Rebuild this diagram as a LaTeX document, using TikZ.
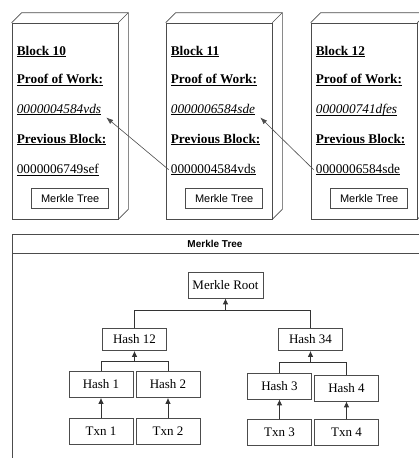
\documentclass[tikz,border=0pt]{standalone}
\usepackage{fontspec}
\setmainfont{Liberation Serif}
\setsansfont{Liberation Sans}
\usetikzlibrary{positioning,arrows.meta,calc}

\newcommand{\ulbl}[1]{\underline{\raisebox{0pt}[\height][0pt]{#1}}}

\begin{document}
\begin{tikzpicture}[
  x=1pt, y=-1pt,
  >=Latex,
  face/.style={draw=black!70, line width=0.7pt},
  blockface/.style={face, minimum width=106pt, minimum height=196pt, inner sep=0pt},
  ttl/.style={anchor=west, inner sep=2pt, font=\fontsize{13.3}{16}\selectfont\bfseries},
  hashval/.style={anchor=west, inner sep=2pt, font=\fontsize{13.3}{16}\selectfont\itshape},
  prevval/.style={anchor=west, inner sep=2pt, font=\fontsize{13.3}{16}\selectfont},
  mbox/.style={face, minimum width=77pt, minimum height=20pt, inner sep=0pt, font=\sffamily\fontsize{11}{13}\selectfont},
  tnode/.style={face, minimum width=64pt, minimum height=26pt, inner sep=0pt, font=\fontsize{13}{15}\selectfont},
  link/.style={draw=black!70, line width=0.6pt, -{Latex[length=7pt,width=5pt]}},
  bar/.style={draw=black!80, line width=0.8pt},
  up/.style={bar, -{Latex[length=6pt,width=5.5pt]}}
]
\useasboundingbox (0,0) rectangle (419,458);
\clip (0,0) rectangle (419,458);

% ------------------------------------------------------------
% Blocks of the chain
% ------------------------------------------------------------
\node[blockface] (blk10) at (65,121) {};
\node[blockface] (blk11) at (219,121) {};
\node[blockface] (blk12) at (364,121) {};

% depth of each block
\draw[face] (blk10.north west) -- ++(10,-10) -| ($(blk10.south east)+(10,-10)$) -- (blk10.south east);
\draw[face] (blk10.north east) -- ++(10,-10);
\draw[face] (blk11.north west) -- ++(10,-10) -| ($(blk11.south east)+(10,-10)$) -- (blk11.south east);
\draw[face] (blk11.north east) -- ++(10,-10);
\draw[face] (blk12.north west) -- ++(10,-10) -| ($(blk12.south east)+(10,-10)$) -- (blk12.south east);
\draw[face] (blk12.north east) -- ++(10,-10);

% Block 10
\node[ttl] (ttl10) at ($(blk10.north west)+(3,29)$) {\ulbl{Block 10}};
\node[ttl, below=28pt of ttl10.west, anchor=west] (powl10) {\ulbl{Proof of Work:}};
\node[hashval, below=30pt of powl10.west, anchor=west] (pow10) {\ulbl{0000004584vds}};
\node[ttl, below=30pt of pow10.west, anchor=west] (prevl10) {\ulbl{Previous Block:}};
\node[prevval, below=30pt of prevl10.west, anchor=west] (prev10) {\ulbl{0000006749sef}};
\node[mbox] (mt10) at ($(blk10.south west)+(58.5,-21)$) {Merkle Tree};

% Block 11
\node[ttl] (ttl11) at ($(blk11.north west)+(3,29)$) {\ulbl{Block 11}};
\node[ttl, below=28pt of ttl11.west, anchor=west] (powl11) {\ulbl{Proof of Work:}};
\node[hashval, below=30pt of powl11.west, anchor=west] (pow11) {\ulbl{0000006584sde}};
\node[ttl, below=30pt of pow11.west, anchor=west] (prevl11) {\ulbl{Previous Block:}};
\node[prevval, below=30pt of prevl11.west, anchor=west] (prev11) {\ulbl{0000004584vds}};
\node[mbox] (mt11) at ($(blk11.south west)+(58.5,-21)$) {Merkle Tree};

% Block 12
\node[ttl] (ttl12) at ($(blk12.north west)+(3,29)$) {\ulbl{Block 12}};
\node[ttl, below=28pt of ttl12.west, anchor=west] (powl12) {\ulbl{Proof of Work:}};
\node[hashval, below=30pt of powl12.west, anchor=west] (pow12) {\ulbl{000000741dfes}};
\node[ttl, below=30pt of pow12.west, anchor=west] (prevl12) {\ulbl{Previous Block:}};
\node[prevval, below=30pt of prevl12.west, anchor=west] (prev12) {\ulbl{0000006584sde}};
\node[mbox] (mt12) at ($(blk12.south west)+(58.5,-21)$) {Merkle Tree};

% previous block points back to proof of work
\draw[link] (prev11.west) -- ($(pow10.south east)+(3,0)$);
\draw[link] (prev12.west) -- ($(pow11.south east)+(3,0)$);

% ------------------------------------------------------------
% Merkle tree panel
% ------------------------------------------------------------
\node[face, anchor=north west, minimum width=430pt, minimum height=240pt, inner sep=0pt] (panel) at (12,234) {};
\node[font=\sffamily\bfseries\fontsize{10}{12}\selectfont] (hdr) at (215,244) {Merkle Tree};
\draw[face] ($(panel.north west)+(0,19)$) -- ($(panel.north east)+(0,19)$);

\node[tnode, minimum width=75pt] (root) at (225.5,285) {Merkle Root};
\node[tnode, minimum height=22pt] (h12) at (134.5,339.5) {Hash 12};
\node[tnode, minimum height=22pt] (h34) at (310.5,339.5) {Hash 34};
\node[tnode] (h1) at (101,384.5) {Hash 1};
\node[tnode] (h2) at (168,384.5) {Hash 2};
\node[tnode] (h3) at (279.5,386) {Hash 3};
\node[tnode] (h4) at (346.5,388) {Hash 4};
\node[tnode, below=20pt of h1] (t1) {Txn 1};
\node[tnode, below=20pt of h2] (t2) {Txn 2};
\node[tnode, below=20pt of h3] (t3) {Txn 3};
\node[tnode, below=18pt of h4] (t4) {Txn 4};

% joins
\coordinate (jroot) at ($(root.south)+(0,12)$);
\coordinate (j12) at ($(h12.south)+(0,11)$);
\coordinate (j34) at ($(h34.south)+(0,12)$);

\draw[bar] (h12.north) |- (jroot) -| (h34.north);
\draw[up] (jroot) -- (root.south);
\draw[bar] (h1.north) |- (j12) -| (h2.north);
\draw[up] (j12) -- (h12.south);
\draw[bar] (h3.north) |- (j34) -| (h4.north);
\draw[up] (j34) -- (h34.south);

% transactions up to their hashes
\draw[up] (t1) -- (h1);
\draw[up] (t2) -- (h2);
\draw[up] (t3) -- (h3);
\draw[up] (t4) -- (h4);

\end{tikzpicture}
\end{document}
